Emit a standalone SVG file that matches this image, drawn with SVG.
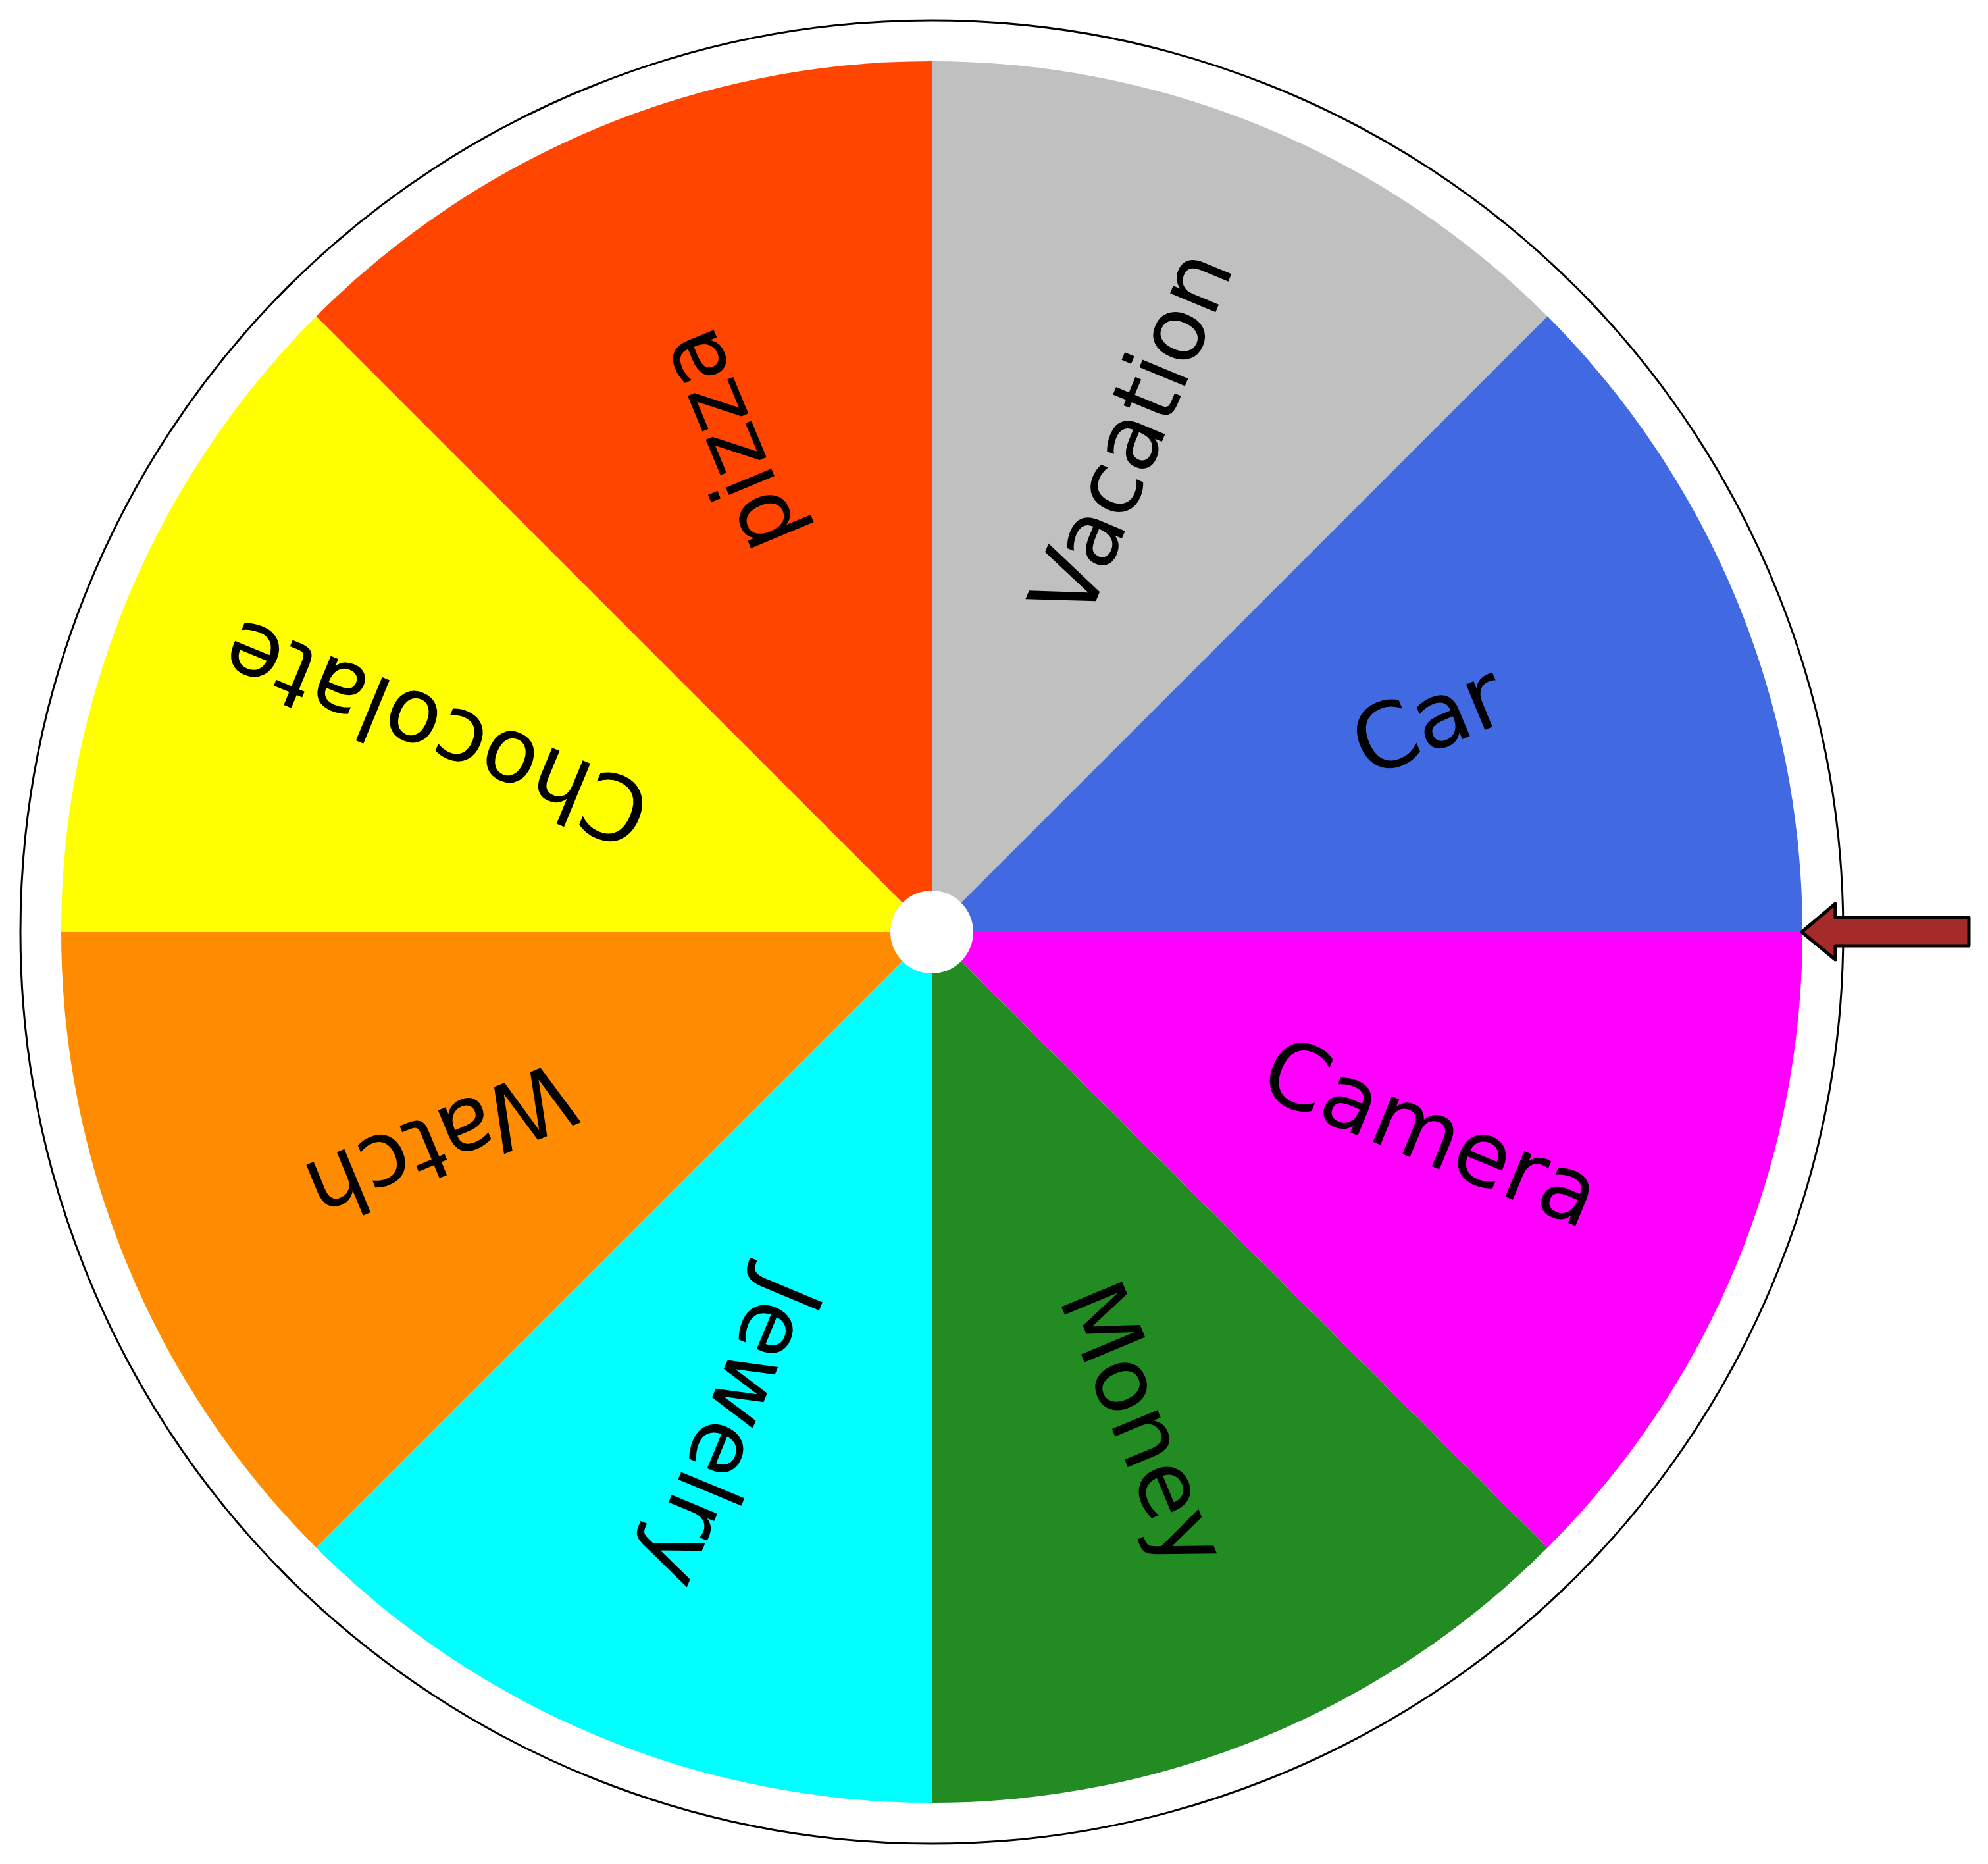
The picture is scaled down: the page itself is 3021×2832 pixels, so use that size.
<svg xmlns="http://www.w3.org/2000/svg" width="3021" height="2832" viewBox="0 0 3021 2832">
<style>
.lbl{font-family:"DejaVu Sans","Liberation Sans",sans-serif;font-size:137px;fill:#000;text-anchor:middle}
.sec{stroke:none}
</style>
<rect x="0" y="0" width="3021" height="2832" fill="#ffffff"/>
<g id="rim"><circle cx="1416" cy="1416" r="1385" fill="#ffffff" stroke="#000000" stroke-width="3"/></g>
<g id="wheel" transform="translate(1416,1416)">
<g id="camera"><path class="sec" fill="#FF00FF" d="M0,0 L1323,0 A1323,1323 0 0 1 935.5,935.5 Z"/><text class="lbl" transform="rotate(22.5)" x="818" y="38">Camera</text></g>
<g id="money"><path class="sec" fill="#228B22" d="M0,0 L935.5,935.5 A1323,1323 0 0 1 0,1323 Z"/><text class="lbl" transform="rotate(67.5)" x="815" y="36">Money</text></g>
<g id="jewelry"><path class="sec" fill="#00FFFF" d="M0,0 L0,1323 A1323,1323 0 0 1 -935.5,935.5 Z"/><text class="lbl" transform="rotate(112.5)" x="818" y="38">Jewelry</text></g>
<g id="watch"><path class="sec" fill="#FF8C00" d="M0,0 L-935.5,935.5 A1323,1323 0 0 1 -1323,0 Z"/><text class="lbl" transform="rotate(157.5)" x="812" y="37">Watch</text></g>
<g id="chocolate"><path class="sec" fill="#FFFF00" d="M0,0 L-1323,0 A1323,1323 0 0 1 -935.5,-935.5 Z"/><text class="lbl" transform="rotate(202.5)" x="812" y="38">Chocolate</text></g>
<g id="pizza"><path class="sec" fill="#FF4500" d="M0,0 L-935.5,-935.5 A1323,1323 0 0 1 0,-1323 Z"/><text class="lbl" transform="rotate(247.5)" x="808" y="44">pizza</text></g>
<g id="vacation"><path class="sec" fill="#C0C0C0" d="M0,0 L0,-1323 A1323,1323 0 0 1 935.5,-935.5 Z"/><text class="lbl" transform="rotate(292.5)" x="815" y="38">Vacation</text></g>
<g id="car"><path class="sec" fill="#4169E1" d="M0,0 L935.5,-935.5 A1323,1323 0 0 1 1323,0 Z"/><text class="lbl" transform="rotate(337.5)" x="820" y="38">Car</text></g>
<g id="hub"><circle cx="0" cy="0" r="63" fill="#ffffff"/></g>
</g>
<g id="pointer"><polygon points="2738,1416 2789,1373 2789,1394 2992,1394 2992,1437 2789,1437 2789,1458" fill="#A52A2A" stroke="#000000" stroke-width="5" stroke-linejoin="round"/></g>
<g id="connectors"></g>
</svg>
